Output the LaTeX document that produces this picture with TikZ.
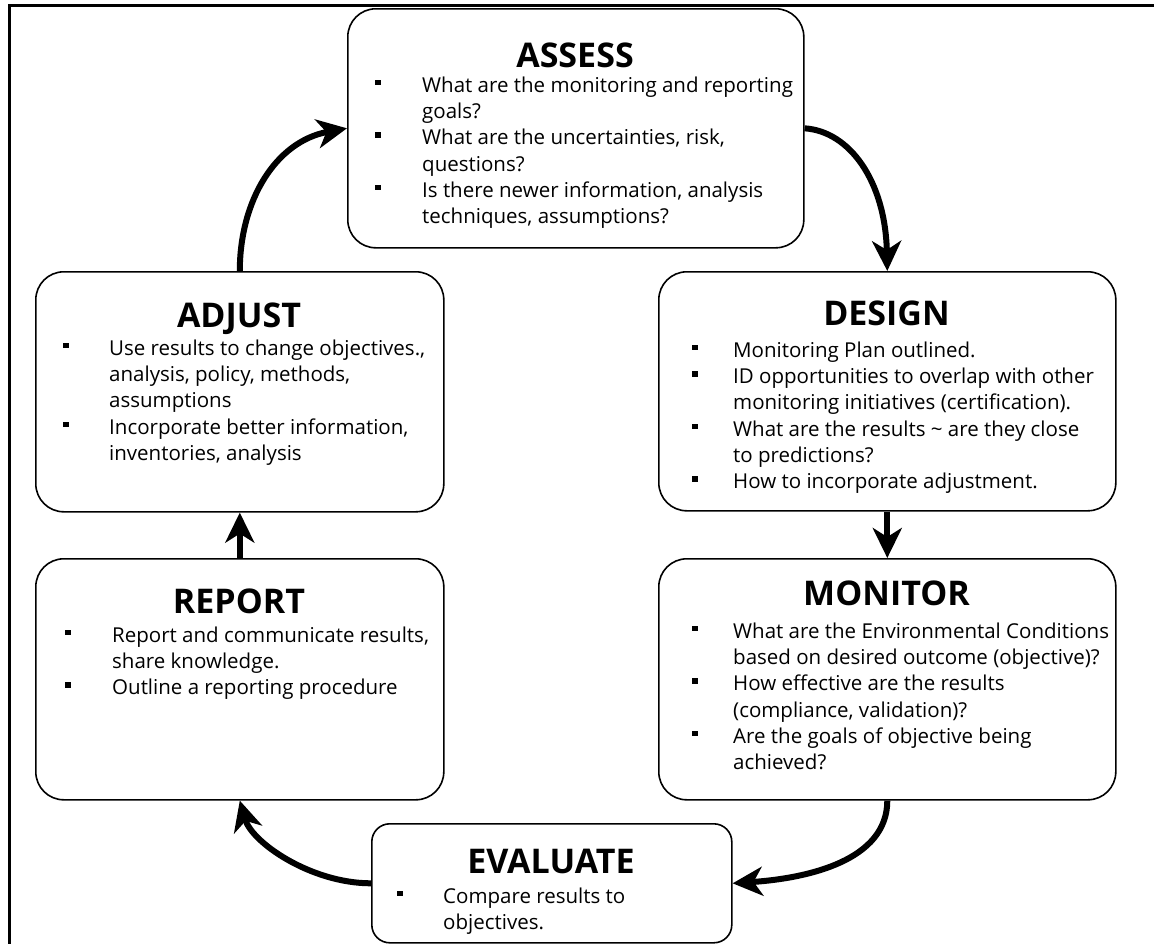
\documentclass[tikz,border=0pt]{standalone}
\usepackage{fontspec}
\setmainfont{Open Sans}
\usetikzlibrary{arrows.meta}
\newlength\bw
\newcommand\bitem{\makebox[\bw][l]{\rule[7pt]{5.5pt}{5.5pt}}}
\newcommand\cont{\hspace*{\bw}}
\newcommand\fstrut{\rule{0pt}{20pt}}
\tikzset{
  stage/.style={draw=black, line width=1.6pt, rounded corners=28pt, inner sep=0pt, anchor=north west, fill=white},
  ttl/.style={anchor=base, inner sep=0pt, font=\fontsize{34}{38}\selectfont\bfseries},
  lst/.style={anchor=north west, inner sep=0pt, align=left,
    font=\fontsize{20.5}{26.3}\selectfont, execute at begin node={\global\bw=#1}},
  flow/.style={line width=6pt, -{Stealth[length=30pt,width=29pt,inset=9pt]}},
}
\begin{document}
\begin{tikzpicture}[x=1pt,y=-1pt]
\useasboundingbox (0,0) rectangle (1154,943);
% frame
\draw[line width=3pt] (9,960) -- (9,5.5) -- (1170,5.5);
% boxes
\node[stage, minimum width=456pt, minimum height=239pt] (assess) at (347,8) {};
\node[stage, minimum width=408pt, minimum height=240pt] (adjust) at (35,271) {};
\node[stage, minimum width=457pt, minimum height=239pt] (design) at (658,271) {};
\node[stage, minimum width=408pt, minimum height=241pt] (report) at (35,558) {};
\node[stage, minimum width=457pt, minimum height=241pt] (monitor) at (658,558) {};
\node[stage, rounded corners=18pt, minimum width=360pt, minimum height=119pt] (evaluate) at (371,823) {};
% titles
\node[ttl] (assessT) at (575,67) {ASSESS};
\node[ttl] (adjustT) at (239,327) {ADJUST};
\node[ttl] (designT) at (886.5,325) {DESIGN};
\node[ttl] (reportT) at (239,613) {REPORT};
\node[ttl] (monitorT) at (886.5,605) {MONITOR};
\node[ttl] (evaluateT) at (551,873) {EVALUATE};
% lists
\node[lst=47pt] (assessL) at (375,72) {\fstrut\bitem What are the monitoring and reporting\\
\cont goals?\\
\bitem What are the uncertainties, risk,\\
\cont questions?\\
\bitem Is there newer information, analysis\\
\cont techniques, assumptions?};
\node[lst=46pt] (adjustL) at (63,335) {\fstrut\bitem Use results to change objectives.,\\
\cont analysis, policy, methods,\\
\cont assumptions\\
\bitem Incorporate better information,\\
\cont inventories, analysis};
\node[lst=41pt] (designL) at (692,337) {\fstrut\bitem Monitoring Plan outlined.\\
\bitem ID opportunities to overlap with other\\
\cont monitoring initiatives (certification).\\
\bitem What are the results \char`~\ are they close\\
\cont to predictions?\\
\bitem How to incorporate adjustment.};
\node[lst=47pt] (reportL) at (65,622) {\fstrut\bitem Report and communicate results,\\
\cont share knowledge.\\
\bitem Outline a reporting procedure};
\node[lst=41pt] (monitorL) at (692,618) {\fstrut\bitem What are the Environmental Conditions\\
\cont based on desired outcome (objective)?\\
\bitem How effective are the results\\
\cont (compliance, validation)?\\
\bitem Are the goals of objective being\\
\cont achieved?};
\node[lst=46pt] (evaluateL) at (397,883) {\fstrut\bitem Compare results to\\
\cont objectives.};
% connectors
\draw[flow] (adjust.north) .. controls +(0,-71) and +(-71,13) .. (assess.west);
\draw[flow] (assess.east) .. controls +(45,3) and +(-2,-90) .. (design.north);
\draw[flow] (design.south) -- (monitor.north);
\draw[flow] (monitor.south) .. controls +(0,60) and +(75,-5) .. (evaluate.east);
\draw[flow] (evaluate.west) .. controls +(-60,0) and +(12,42) .. (report.south);
\draw[flow] (report.north) -- (adjust.south);
\end{tikzpicture}
\end{document}
